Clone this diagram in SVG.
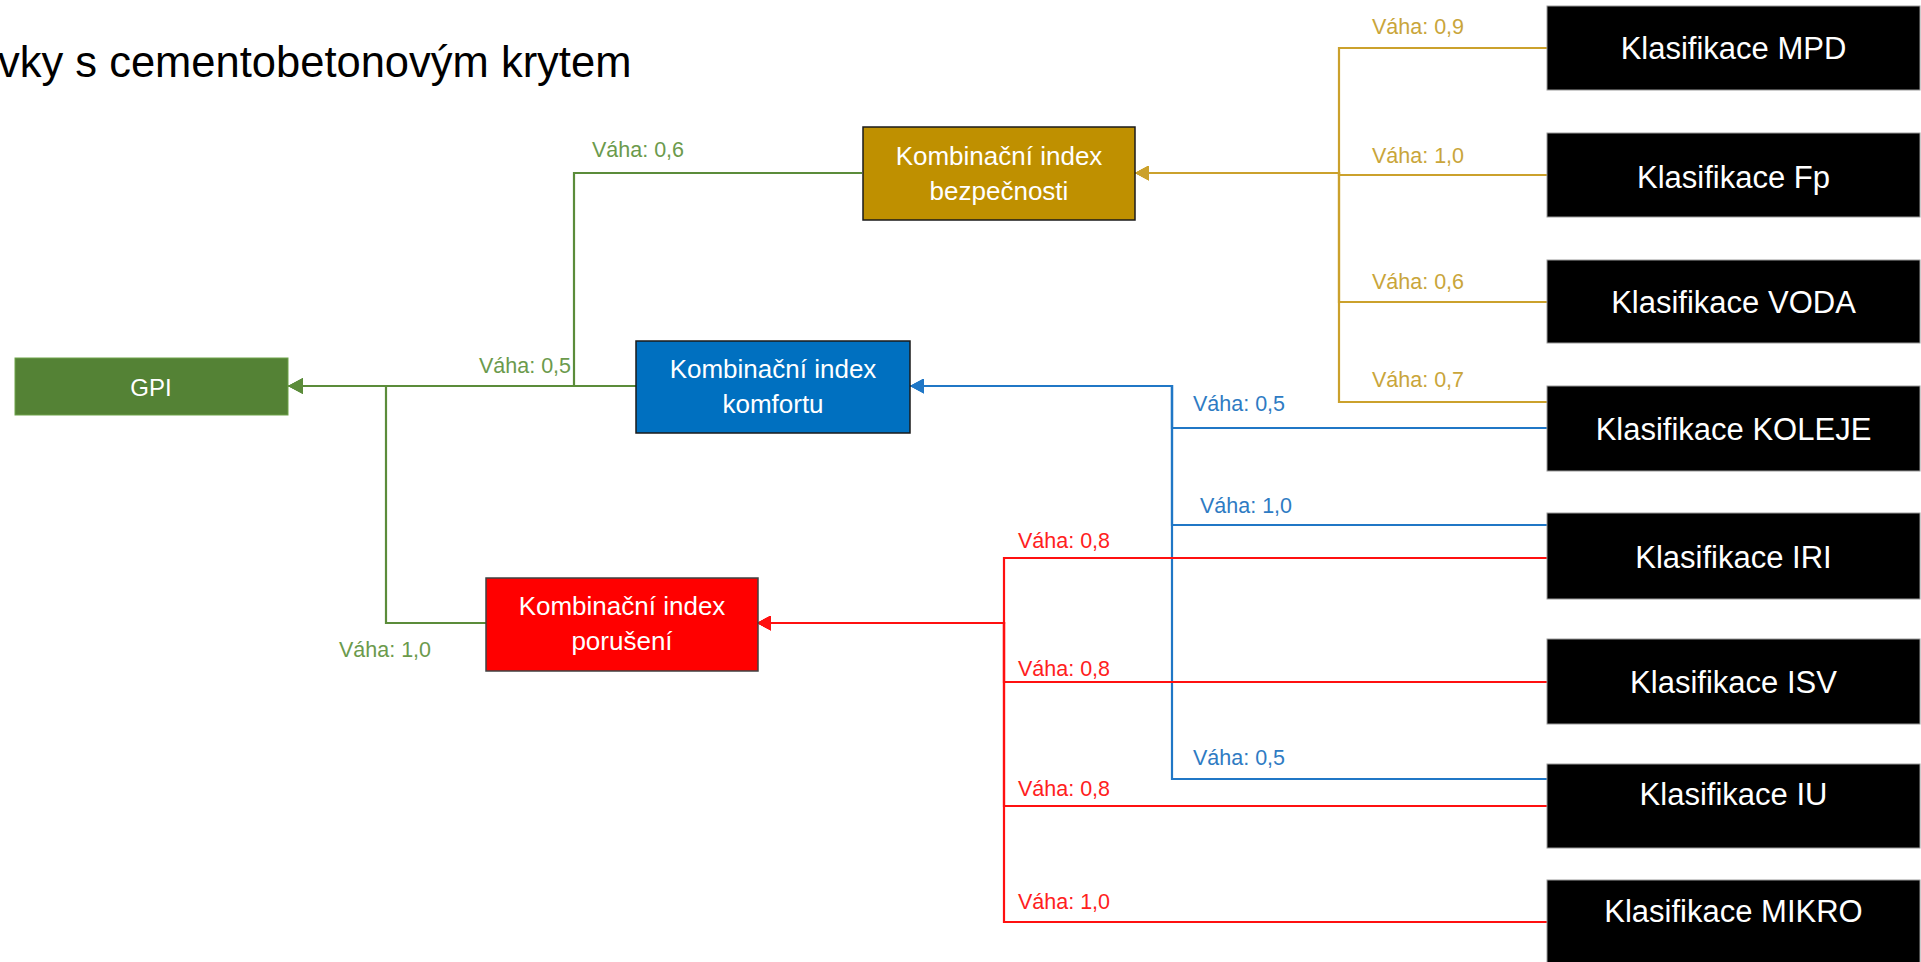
<svg xmlns="http://www.w3.org/2000/svg" width="1921" height="962" viewBox="0 0 1921 962">
<style>
  text { font-family: "Liberation Sans", Arial, sans-serif; }
  .title { font-size: 43.5px; fill: #000; }
  .mid { font-size: 26px; fill: #fff; text-anchor: middle; }
  .cls { font-size: 31px; fill: #fff; text-anchor: middle; }
  .w { font-size: 21.5px; }
  .box-cls { fill: #000; stroke: #9a9a9a; stroke-width: 1; }
  .ln { fill: none; stroke-width: 2.2; }
  .g { stroke: #5B8C3A; }
  .y { stroke: #CBA12C; }
  .b { stroke: #2077C6; }
  .r { stroke: #FF1010; }
  .wg { fill: #6B9A4C; }
  .wy { fill: #C9A53A; }
  .wb { fill: #2E7BC3; }
  .wr { fill: #FF2020; }
</style>
<defs>
  <marker id="ag" markerUnits="userSpaceOnUse" markerWidth="15" markerHeight="16" refX="15" refY="8" orient="auto"><path d="M0,0 L15,8 L0,16 z" fill="#5B8C3A"/></marker>
  <marker id="ay" markerUnits="userSpaceOnUse" markerWidth="14" markerHeight="15" refX="14" refY="7.5" orient="auto"><path d="M0,0 L14,7.5 L0,15 z" fill="#CBA12C"/></marker>
  <marker id="ab" markerUnits="userSpaceOnUse" markerWidth="14" markerHeight="15" refX="14" refY="7.5" orient="auto"><path d="M0,0 L14,7.5 L0,15 z" fill="#2077C6"/></marker>
  <marker id="ar" markerUnits="userSpaceOnUse" markerWidth="14" markerHeight="15" refX="14" refY="7.5" orient="auto"><path d="M0,0 L14,7.5 L0,15 z" fill="#FF1010"/></marker>
</defs>
<rect width="1921" height="962" fill="#fff"/>

<text class="title" x="-2" y="77">vky s cementobetonovým krytem</text>

<g id="connectors">
  <!-- green -->
  <path class="ln g" d="M862,173 H574 V386 H288" marker-end="url(#ag)"/>
  <path class="ln g" d="M636,386 H288" marker-end="url(#ag)"/>
  <path class="ln g" d="M486,623 H386 V386 H288" marker-end="url(#ag)"/>
  <text class="w wg" x="592" y="157">Váha: 0,6</text>
  <text class="w wg" x="479" y="373">Váha: 0,5</text>
  <text class="w wg" x="339" y="657">Váha: 1,0</text>
  <!-- gold -->
  <path class="ln y" d="M1547,48 H1339 V173 H1135" marker-end="url(#ay)"/>
  <path class="ln y" d="M1547,175 H1339 V173 H1135" marker-end="url(#ay)"/>
  <path class="ln y" d="M1547,302 H1339 V173 H1135" marker-end="url(#ay)"/>
  <path class="ln y" d="M1547,402 H1339 V173 H1135" marker-end="url(#ay)"/>
  <text class="w wy" x="1372" y="34">Váha: 0,9</text>
  <text class="w wy" x="1372" y="163">Váha: 1,0</text>
  <text class="w wy" x="1372" y="289">Váha: 0,6</text>
  <text class="w wy" x="1372" y="387">Váha: 0,7</text>
  <!-- blue -->
  <path class="ln b" d="M1547,428 H1172 V386 H910" marker-end="url(#ab)"/>
  <path class="ln b" d="M1547,525 H1172 V386 H910" marker-end="url(#ab)"/>
  <path class="ln b" d="M1547,779 H1172 V386 H910" marker-end="url(#ab)"/>
  <text class="w wb" x="1193" y="411">Váha: 0,5</text>
  <text class="w wb" x="1200" y="513">Váha: 1,0</text>
  <text class="w wb" x="1193" y="765">Váha: 0,5</text>
  <!-- red -->
  <path class="ln r" d="M1547,558 H1004 V623 H757" marker-end="url(#ar)"/>
  <path class="ln r" d="M1547,682 H1004 V623 H757" marker-end="url(#ar)"/>
  <path class="ln r" d="M1547,806 H1004 V623 H757" marker-end="url(#ar)"/>
  <path class="ln r" d="M1547,922 H1004 V623 H757" marker-end="url(#ar)"/>
  <text class="w wr" x="1018" y="548">Váha: 0,8</text>
  <text class="w wr" x="1018" y="676">Váha: 0,8</text>
  <text class="w wr" x="1018" y="796">Váha: 0,8</text>
  <text class="w wr" x="1018" y="909">Váha: 1,0</text>
</g>

<g id="gpi">
  <rect x="15" y="358" width="273" height="57" fill="#548235" stroke="#6FA34B" stroke-width="1"/>
  <text class="mid" x="151" y="396" style="font-size:24px">GPI</text>
</g>
<g id="bezpecnost">
  <rect x="863" y="127" width="272" height="93" fill="#BF9000" stroke="#1a1a1a" stroke-width="1.5"/>
  <text class="mid" x="999" y="165">Kombinační index</text>
  <text class="mid" x="999" y="200">bezpečnosti</text>
</g>
<g id="komfort">
  <rect x="636" y="341" width="274" height="92" fill="#0070C0" stroke="#1a1a1a" stroke-width="1.5"/>
  <text class="mid" x="773" y="378">Kombinační index</text>
  <text class="mid" x="773" y="413">komfortu</text>
</g>
<g id="poruseni">
  <rect x="486" y="578" width="272" height="93" fill="#FF0000" stroke="#404040" stroke-width="1.5"/>
  <text class="mid" x="622" y="615">Kombinační index</text>
  <text class="mid" x="622" y="650">porušení</text>
</g>

<g id="mpd">
  <rect class="box-cls" x="1547" y="6" width="373" height="84"/>
  <text class="cls" x="1733.5" y="59">Klasifikace MPD</text>
</g>
<g id="fp">
  <rect class="box-cls" x="1547" y="133" width="373" height="84"/>
  <text class="cls" x="1733.5" y="188">Klasifikace Fp</text>
</g>
<g id="voda">
  <rect class="box-cls" x="1547" y="260" width="373" height="83"/>
  <text class="cls" x="1733.5" y="313">Klasifikace VODA</text>
</g>
<g id="koleje">
  <rect class="box-cls" x="1547" y="386" width="373" height="85"/>
  <text class="cls" x="1733.5" y="440">Klasifikace KOLEJE</text>
</g>
<g id="iri">
  <rect class="box-cls" x="1547" y="513" width="373" height="86"/>
  <text class="cls" x="1733.5" y="568">Klasifikace IRI</text>
</g>
<g id="isv">
  <rect class="box-cls" x="1547" y="639" width="373" height="85"/>
  <text class="cls" x="1733.5" y="693">Klasifikace ISV</text>
</g>
<g id="iu">
  <rect class="box-cls" x="1547" y="764" width="373" height="84"/>
  <text class="cls" x="1733.5" y="805">Klasifikace IU</text>
</g>
<g id="mikro">
  <rect class="box-cls" x="1547" y="880" width="373" height="86"/>
  <text class="cls" x="1733.5" y="922">Klasifikace MIKRO</text>
</g>
</svg>
